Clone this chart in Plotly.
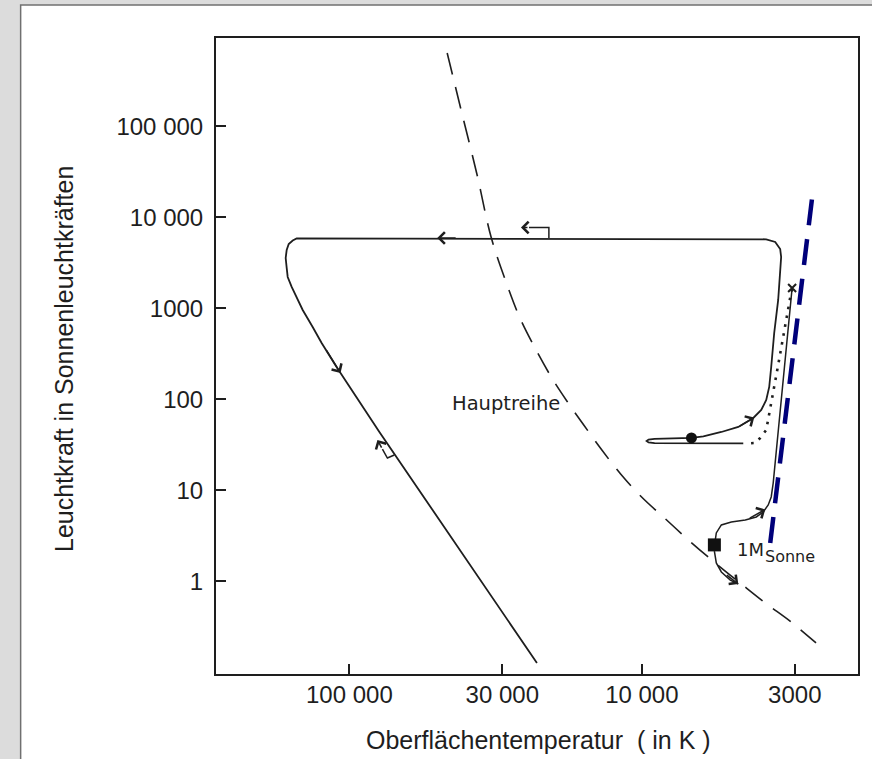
import numpy as np
import plotly.graph_objects as go

# ---------------- axis ticks ----------------
x_tick_vals = [100000, 30000, 10000, 3000]
x_tick_text = ["100 000", "30 000", "10 000", "3000"]
y_tick_vals = [100000, 10000, 1000, 100, 10, 1]
y_tick_text = ["100 000", "10 000", "1000", "100", "10", "1"]

# ---------------- data (T in K, L in L_sun) ----------------
# Hauptreihe (main sequence), dashed
ms_T = [46300, 41500, 36580, 32770, 29130, 26110, 23000, 20300, 18050, 15800,
        13700, 11820, 10020, 8300, 6930, 5610, 4570, 3785, 3088, 2538]
ms_L = [639000, 151000, 29150, 6070, 1945, 782, 348, 171, 95.8, 52.2,
        27.7, 15.1, 8.44, 4.84, 2.84, 1.59, 0.934, 0.578, 0.357, 0.210]

# 1 M_Sonne: from start point down to the main sequence
zams_T = [5650, 5565, 5348, 4983, 4681]
zams_L = [2.15, 1.59, 1.265, 1.03, 0.934]

# red giant branch
rgb_T = [5610, 5565, 5348, 4944, 4430, 4063, 3847, 3698, 3612, 3556, 3064]
rgb_L = [2.84, 3.40, 4.16, 4.48, 4.72, 5.09, 5.77, 6.89, 8.44, 12.0, 1672]

# helium flash (dotted)
flash_T = [3064, 3112, 3419, 3756, 3937, 4097, 4395]
flash_L = [1630, 1298, 238.2, 46.0, 37.6, 33.1, 32.7]

# horizontal branch -> AGB -> planetary nebula nucleus -> white dwarf
track_T = [4500, 6405, 9050, 9485, 9634, 9485, 9050, 6768, 6160, 5348,
           4681, 4159, 3907, 3756, 3669, 3612, 3528, 3419, 3340, 3366,
           3500, 3756, 14040, 144400, 151400, 156200, 161200, 163800, 165100, 163800,
           162500, 157500, 151400, 144400, 133500, 124400, 110600, 92350, 78950, 22840]
track_L = [32.7, 32.7, 32.9, 33.5, 34.8, 36.1, 36.7, 37.6, 39.0, 43.7,
           49.6, 62.3, 76.3, 98.2, 136.5, 226.4, 535.3, 1234, 3662, 4483,
           5353, 5730, 5803, 5922, 5848, 5561, 5089, 4373, 3570, 2773,
           2208, 1715, 1298, 957.9, 623, 415.6, 226.4, 93.4, 43.7, 0.1265]

# blue dashed line
blue_T = [3640, 2598]
blue_L = [2.64, 19950]

# special points
start_T, start_L = [5650], [2.51]      # filled square (1 M_Sonne)
hb_T, hb_L = [6768], [37.6]            # filled circle
tip_T, tip_L = [3064], [1672]          # x mark

# direction arrows on the tracks (tip / tail)
arr_tip_T = [50070, 107200, 4129, 3785, 4681]
arr_tip_L = [5922, 194.5, 63.1, 6.15, 0.934]
arr_tail_T = [42800, 120600, 4681, 4327, 5183]
arr_tail_L = [5922, 357, 49.6, 4.84, 1.20]

# small bracket arrows
br1_T = [20790, 20790, 24320]
br1_L = [5922, 7724, 7724]
br1_tip_T, br1_tip_L = 25900, 7724
br2_T = [70190, 74130, 77090]
br2_L = [24.4, 22.6, 28.4]
br2_tip_T, br2_tip_L = 80190, 35.7

INK = "#1e1e1e"
fig = go.Figure()

fig.add_trace(go.Scatter(x=ms_T, y=ms_L, mode="lines",
                         line=dict(color=INK, width=1.6, dash="22px,13px",
                                   shape="spline", smoothing=1.0)))
fig.add_trace(go.Scatter(x=track_T, y=track_L, mode="lines",
                         line=dict(color=INK, width=1.8)))
fig.add_trace(go.Scatter(x=rgb_T, y=rgb_L, mode="lines",
                         line=dict(color=INK, width=1.5)))
fig.add_trace(go.Scatter(x=zams_T, y=zams_L, mode="lines",
                         line=dict(color=INK, width=1.5)))
fig.add_trace(go.Scatter(x=flash_T, y=flash_L, mode="lines",
                         line=dict(color=INK, width=2.6, dash="2.6px,6.4px")))
fig.add_trace(go.Scatter(x=br1_T, y=br1_L, mode="lines",
                         line=dict(color=INK, width=1.5)))
fig.add_trace(go.Scatter(x=br2_T, y=br2_L, mode="lines",
                         line=dict(color=INK, width=1.5)))
fig.add_trace(go.Scatter(x=blue_T, y=blue_L, mode="lines",
                         line=dict(color="#00007a", width=4.5, dash="26px,14px")))
fig.add_trace(go.Scatter(x=start_T, y=start_L, mode="markers",
                         marker=dict(symbol="square", size=13, color="#111")))
fig.add_trace(go.Scatter(x=hb_T, y=hb_L, mode="markers",
                         marker=dict(symbol="circle", size=11, color="#111")))
fig.add_trace(go.Scatter(x=tip_T, y=tip_L, mode="markers",
                         marker=dict(symbol="x-thin", size=8,
                                     line=dict(color=INK, width=2))))

annotations = []


def arrow(tT, tL, aT, aL):
    return dict(x=np.log10(tT), y=np.log10(tL), ax=np.log10(aT), ay=np.log10(aL),
                xref="x", yref="y", axref="x", ayref="y", text="",
                showarrow=True, arrowhead=4, arrowsize=1.5, arrowwidth=1.5,
                arrowcolor=INK, standoff=0, startstandoff=0)


for i in range(len(arr_tip_T)):
    annotations.append(arrow(arr_tip_T[i], arr_tip_L[i], arr_tail_T[i], arr_tail_L[i]))
annotations.append(arrow(br1_tip_T, br1_tip_L, br1_T[-1], br1_L[-1]))
annotations.append(arrow(br2_tip_T, br2_tip_L, br2_T[-1], br2_L[-1]))

annotations += [
    dict(x=np.log10(45210), y=np.log10(88.8), xref="x", yref="y", text="Hauptreihe",
         showarrow=False, xanchor="left", yanchor="middle",
         font=dict(family="DejaVu Sans", size=19.5, color=INK)),
    dict(x=np.log10(4792), y=np.log10(2.21), xref="x", yref="y", text="1M",
         showarrow=False, xanchor="left", yanchor="middle",
         font=dict(family="DejaVu Sans", size=18, color=INK)),
    dict(x=np.log10(3847), y=np.log10(1.85), xref="x", yref="y", text="Sonne",
         showarrow=False, xanchor="left", yanchor="middle",
         font=dict(family="DejaVu Sans", size=16, color=INK)),
    # axis titles
    dict(x=0.503, y=-0.104, xref="paper", yref="paper",
         text="Oberflächentemperatur\u00a0\u00a0( in K )", showarrow=False,
         xanchor="center", yanchor="middle",
         font=dict(family="Liberation Sans, Arial", size=25, color=INK)),
    dict(x=-0.2376, y=0.496, xref="paper", yref="paper",
         text="Leuchtkraft in Sonnenleuchtkräften", showarrow=False, textangle=-90,
         xanchor="center", yanchor="middle",
         font=dict(family="Liberation Sans, Arial", size=25, color=INK)),
]

axis_common = dict(type="log", showgrid=False, zeroline=False, showline=True,
                   linecolor=INK, linewidth=2, mirror=True, ticks="inside",
                   ticklen=10, tickwidth=1.6, tickcolor=INK,
                   tickfont=dict(family="Liberation Sans, Arial", size=24, color=INK))

fig.update_layout(
    width=872, height=759,
    margin=dict(l=216, r=12, t=38, b=85),
    paper_bgcolor="#dcdcdc", plot_bgcolor="white",
    showlegend=False,
    xaxis=dict(range=[5.456, 3.261], tickvals=x_tick_vals, ticktext=x_tick_text,
               ticklabelstandoff=-2, **axis_common),
    yaxis=dict(range=[-1.019, 5.970], tickvals=y_tick_vals, ticktext=y_tick_text,
               ticklabelstandoff=6, **axis_common),
    annotations=annotations,
    shapes=[dict(type="rect", xref="paper", yref="paper", layer="below",
                 x0=-0.3043, x1=1.04, y0=-0.16, y1=1.0519,
                 fillcolor="white", line=dict(color="#707070", width=1.5))],
)

fig.write_html("out.html")
